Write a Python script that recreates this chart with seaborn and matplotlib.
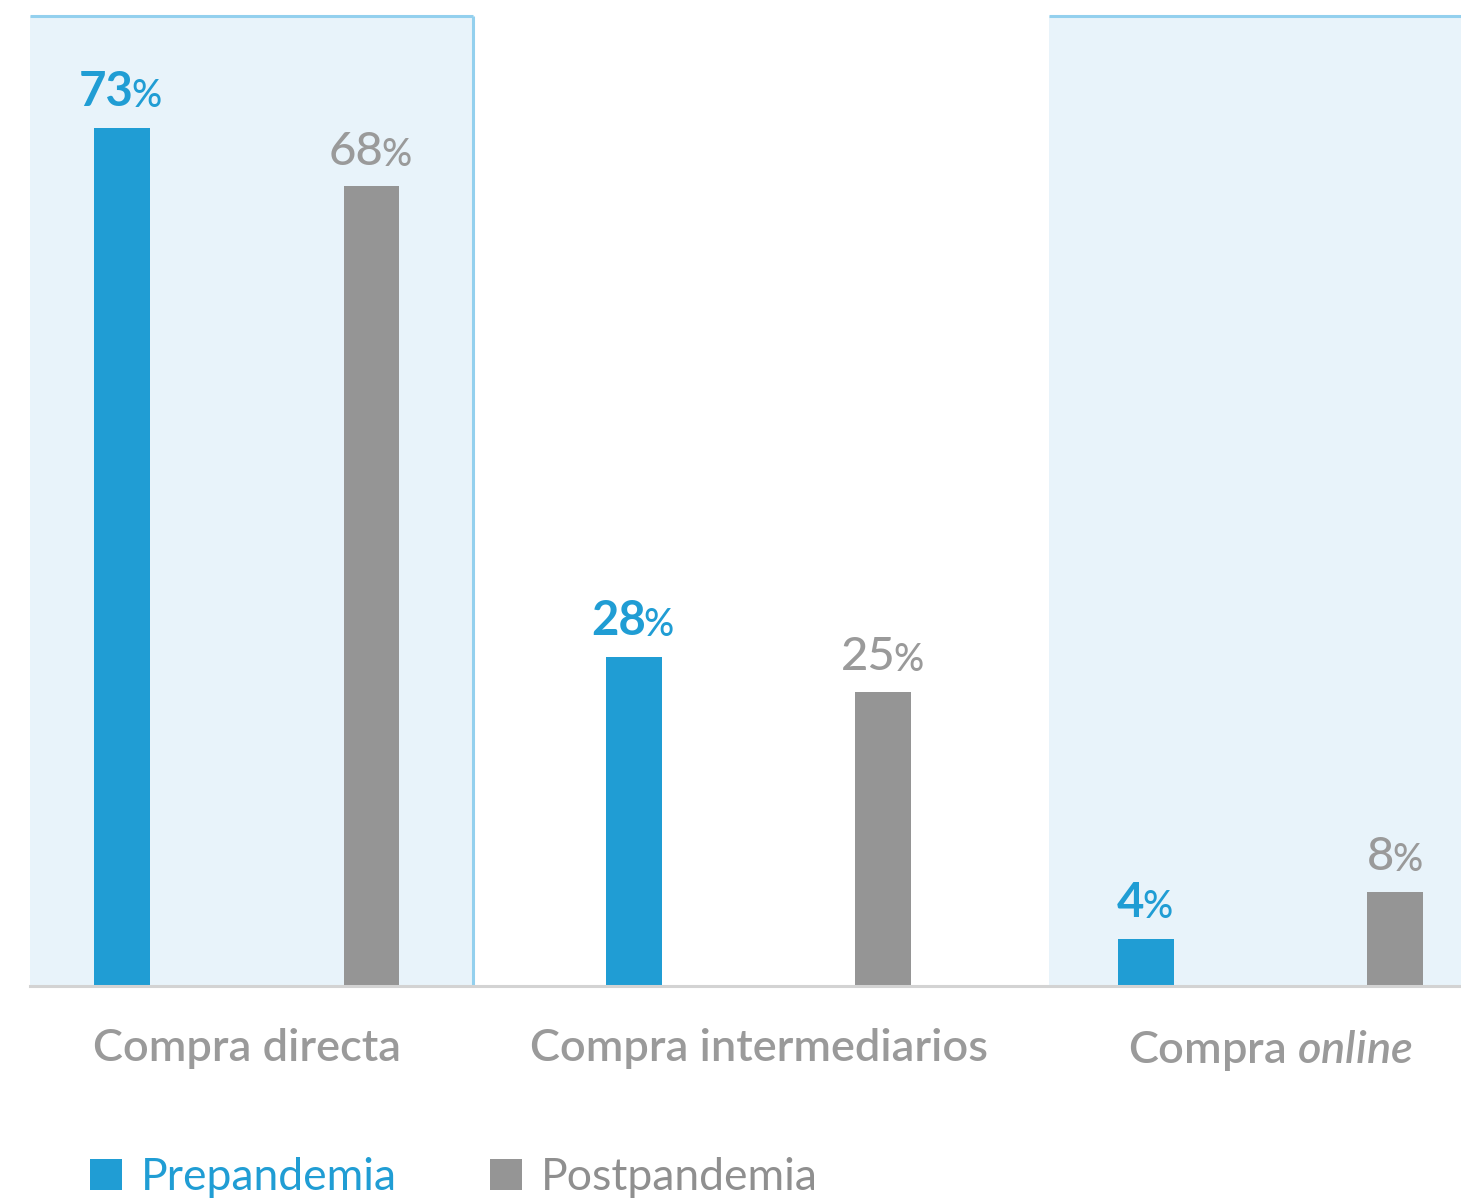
import matplotlib
matplotlib.use("Agg")
import matplotlib.pyplot as plt
from matplotlib.patches import Patch
import seaborn as sns
import pandas as pd

# Data
canales = ["Compra directa", "Compra intermediarios", "Compra online"]
etiquetas_eje = ["Compra directa", "Compra intermediarios", r"Compra $\mathit{online}$"]
periodos = ["Prepandemia", "Postpandemia"]
prepandemia = [73, 28, 4]
postpandemia = [68, 25, 8]

AZUL = "#209dd4"
GRIS = "#959595"
GRIS_TEXTO = "#9a9a9a"
FONDO = "#e8f3fa"
BORDE = "#93d0ee"

df = pd.DataFrame({
    "canal": canales * 2,
    "periodo": [periodos[0]] * 3 + [periodos[1]] * 3,
    "valor": prepandemia + postpandemia,
})

sns.set_theme(style="white")
plt.rcParams["font.family"] = ["Lato", "DejaVu Sans"]
plt.rcParams["mathtext.fontset"] = "custom"
plt.rcParams["mathtext.it"] = "Lato:italic:semibold"
plt.rcParams["mathtext.rm"] = "Lato:semibold"

DPI = 100
fig = plt.figure(figsize=(14.61, 11.98), dpi=DPI)
ax = fig.add_axes([30 / 1461, 1 - 986 / 1198, 1 - 30 / 1461, 970 / 1198])

sns.barplot(data=df, x="canal", y="valor", hue="periodo", order=canales,
            hue_order=periodos, palette=[AZUL, GRIS], width=0.976, gap=0.776,
            saturation=1, legend=False, linewidth=0, edgecolor="none", ax=ax)

xmin, xmax = -0.423, 2.372
ax.set_xlim(xmin, xmax)
ax.set_ylim(0, 82.5)

# shaded panels behind the first and third groups
ax.axvspan(xmin, 0.442, color=FONDO, zorder=0, lw=0)
ax.axvspan(1.567, xmax, color=FONDO, zorder=0, lw=0)
ax.plot([xmin, 0.442], [82.5, 82.5], color=BORDE, lw=2.2, clip_on=False, zorder=1, solid_capstyle="butt")
ax.plot([0.442, 0.442], [0, 82.5], color=BORDE, lw=2.2, clip_on=False, zorder=1, solid_capstyle="butt")
ax.plot([1.567, xmax], [82.5, 82.5], color=BORDE, lw=2.2, clip_on=False, zorder=1, solid_capstyle="butt")

for s in ["top", "right", "left"]:
    ax.spines[s].set_visible(False)
ax.spines["bottom"].set_color("#d3d3d3")
ax.spines["bottom"].set_linewidth(2.2)
ax.spines["bottom"].set_zorder(3)

ax.set_yticks([])
ax.set_xlabel("")
ax.set_ylabel("")
ax.set_xticks(range(len(canales)))
ax.set_xticklabels(etiquetas_eje, fontsize=32.5, color=GRIS_TEXTO, fontweight="semibold")
ax.tick_params(axis="x", length=0, pad=30)

# value labels: number plus a smaller percent sign, centred over each bar
fig.canvas.draw()
renderer = fig.canvas.get_renderer()
estilos = [(AZUL, "bold"), (GRIS_TEXTO, "medium")]
for cont, serie, (col, peso) in zip(ax.containers, [prepandemia, postpandemia], estilos):
    for bar, v in zip(cont, serie):
        cx = bar.get_x() + bar.get_width() / 2
        top = bar.get_height()
        num = ax.annotate(f"{v}", (cx, top), xytext=(0, 10), textcoords="offset points",
                          ha="center", va="bottom", fontsize=34, color=col, fontweight=peso)
        pct = ax.annotate("%", (1, 0), xycoords=num, xytext=(-1.5, 0), textcoords="offset points",
                          ha="left", va="bottom", fontsize=27, color=col, fontweight="medium")
        w = pct.get_window_extent(renderer).width
        shift = -(w / 2) * 72 / DPI
        num.set_position((shift, 10))

handles = [Patch(facecolor=AZUL, edgecolor="none"), Patch(facecolor=GRIS, edgecolor="none")]
leg = fig.legend(handles, periodos, loc="lower left", bbox_to_anchor=(90 / 1461, 0.0),
                 ncol=2, frameon=False, fontsize=32, handlelength=0.72, handleheight=0.72,
                 handletextpad=0.42, columnspacing=2.1, borderaxespad=0, borderpad=0)
for t, c in zip(leg.get_texts(), [AZUL, "#8f8f8f"]):
    t.set_color(c)
    t.set_fontweight("normal")

fig.savefig("out.png", dpi=DPI)
